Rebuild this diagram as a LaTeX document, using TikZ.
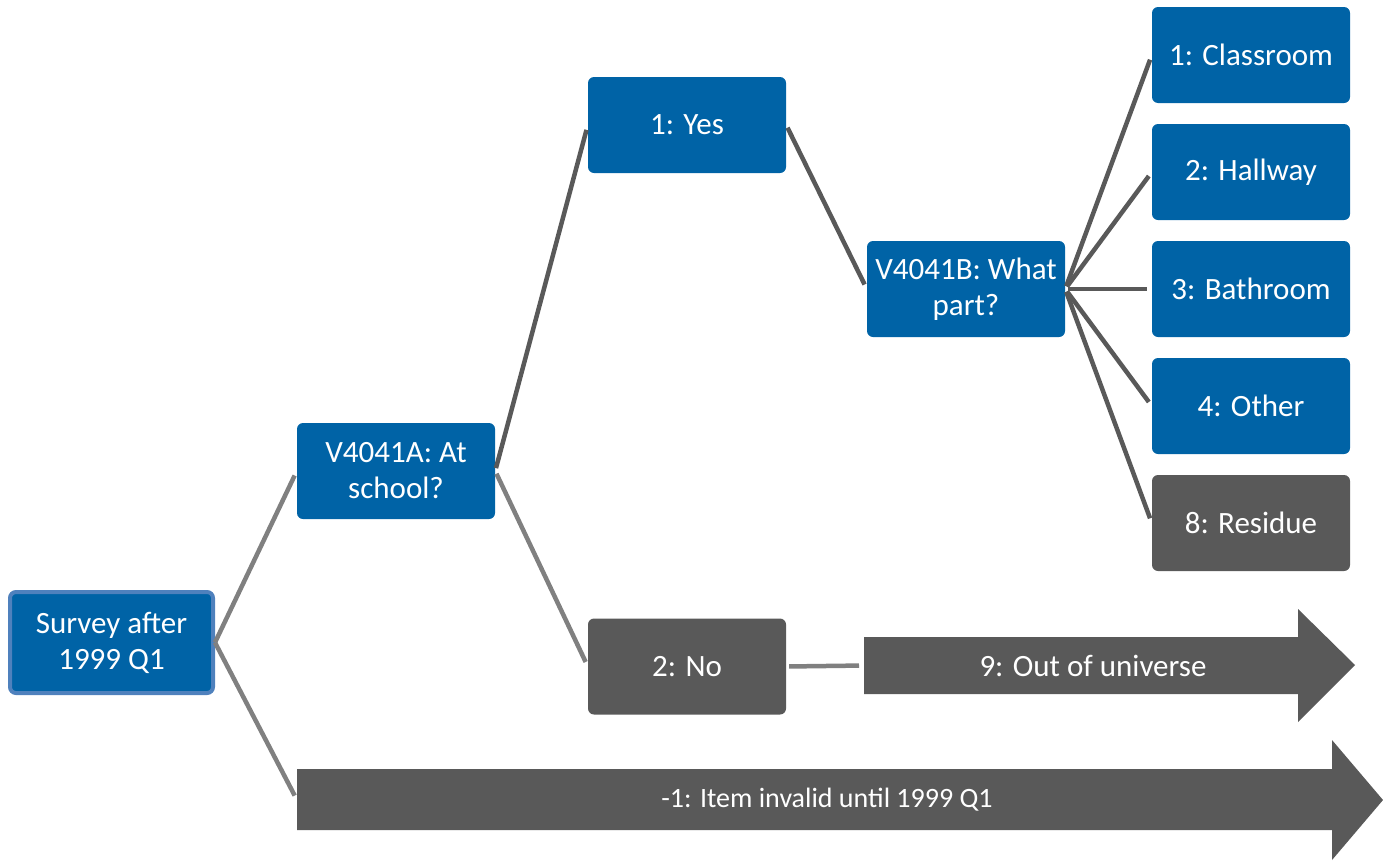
\documentclass[tikz,border=0pt]{standalone}
\usepackage{fontspec}
\setmainfont{Carlito}
\definecolor{boxblue}{RGB}{0,99,166}
\definecolor{boxgray}{RGB}{89,89,89}
\definecolor{edgeblue}{RGB}{79,129,189}
\definecolor{linedark}{RGB}{89,89,89}
\definecolor{linelight}{RGB}{128,128,128}
\begin{document}
\begin{tikzpicture}[x=1pt,y=-1pt,
  box/.style={rounded corners=6pt, minimum width=198pt, minimum height=96pt, inner sep=0pt,
    text=white, align=center, font=\fontsize{31}{36}\selectfont},
  bluebox/.style={box, fill=boxblue},
  graybox/.style={box, fill=boxgray},
  darkline/.style={draw=linedark, line width=4.5pt, shorten >=5pt, shorten <=3pt},
  lightline/.style={draw=linelight, line width=4.5pt, shorten >=5pt, shorten <=3pt},
  arrowbody/.style={fill=boxgray},
  arrowtext/.style={text=white, font=\fontsize{31}{36}\selectfont}]
\useasboundingbox (0,0) rectangle (1383,860);
% nodes
\node[bluebox, draw=edgeblue, line width=4pt, minimum width=203pt, minimum height=101pt] (survey) at (111.5,642.5) {Survey after\\1999 Q1};
\node[bluebox] (a) at (396,471) {V4041A: At\\school?};
\node[bluebox] (yes) at (687,125) {1: Yes};
\node[graybox] (no) at (687,666.5) {2: No};
\node[bluebox] (b) at (966,289) {V4041B: What\\part?};
\node[bluebox] (c1) at (1251,55) {1: Classroom};
\node[bluebox] (c2) at (1251,172) {2: Hallway};
\node[bluebox] (c3) at (1251,289) {3: Bathroom};
\node[bluebox] (c4) at (1251,406) {4: Other};
\node[graybox] (c8) at (1251,523) {8: Residue};
% arrows
\fill[arrowbody] (864,637) -- (1298,637) -- (1298,609) -- (1355,665) -- (1298,722) -- (1298,694) -- (864,694) -- cycle;
\coordinate (outarrow) at (864,665.5);
\node[arrowtext] (outtext) at (1093,665.5) {9: Out of universe};
\fill[arrowbody] (297,769) -- (1332,769) -- (1332,740) -- (1383,800) -- (1332,860) -- (1332,830) -- (297,830) -- cycle;
\coordinate (invarrow) at (297,800);
\node[arrowtext, font=\fontsize{28}{33}\selectfont] (invtext) at (827,800) {-1: Item invalid until 1999 Q1};
% connectors
\draw[lightline, shorten <=0pt] (survey.east) -- (a.west);
\draw[lightline, shorten <=0pt] (survey.east) -- (invarrow);
\draw[darkline] (a.east) -- (yes.west);
\draw[lightline] (a.east) -- (no.west);
\draw[darkline] (yes.east) -- (b.west);
\draw[lightline] (no.east) -- (outarrow);
\foreach \c in {c1,c2,c3,c4,c8}
  \draw[darkline] (b.east) -- (\c.west);
\end{tikzpicture}
\end{document}
